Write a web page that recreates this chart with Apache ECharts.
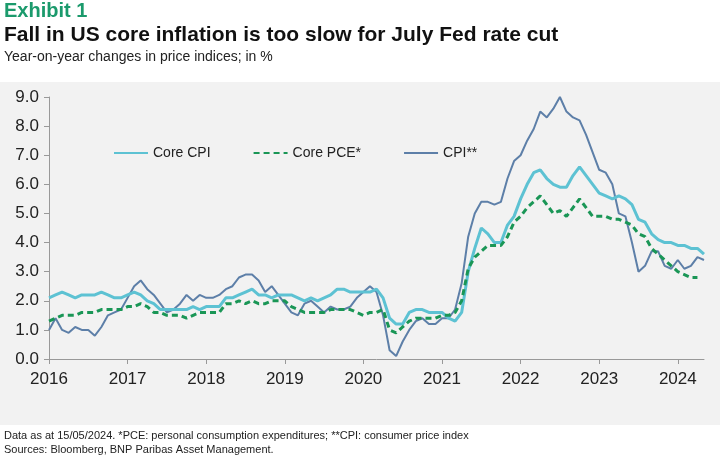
<!DOCTYPE html>
<html><head><meta charset="utf-8">
<script src="https://cdn.jsdelivr.net/npm/echarts@6/dist/echarts.min.js"></script>
<style>html,body{margin:0;padding:0;background:#fff}#c{width:725px;height:461px}</style>
</head><body><div id="c"></div>
<script>
// monthly, Dec 2015 .. Apr 2024 (first point sits on the 2016 tick)
var yearLabels = ['2016','2017','2018','2019','2020','2021','2022','2023','2024'];
var months = [];
for (var i = 0; i < 101; i++) months.push(i);

var coreCPI = [2.1,
 2.2,2.3,2.2,2.1,2.2,2.2,2.2,2.3,2.2,2.1,2.1,2.2,
 2.3,2.2,2.0,1.9,1.7,1.7,1.7,1.7,1.7,1.8,1.7,1.8,
 1.8,1.8,2.1,2.1,2.2,2.3,2.4,2.2,2.2,2.1,2.2,2.2,
 2.2,2.1,2.0,2.1,2.0,2.1,2.2,2.4,2.4,2.3,2.3,2.3,
 2.3,2.4,2.1,1.4,1.2,1.2,1.6,1.7,1.7,1.6,1.6,1.6,
 1.4,1.3,1.6,3.0,3.8,4.5,4.3,4.0,4.0,4.6,4.9,5.5,
 6.0,6.4,6.5,6.2,6.0,5.9,5.9,6.3,6.6,6.3,6.0,5.7,
 5.6,5.5,5.6,5.5,5.3,4.8,4.7,4.3,4.1,4.0,4.0,3.9,
 3.9,3.8,3.8,3.6];
var corePCE = [1.3,
 1.4,1.5,1.5,1.5,1.6,1.6,1.6,1.7,1.7,1.7,1.7,1.8,
 1.8,1.9,1.8,1.6,1.6,1.5,1.5,1.5,1.4,1.5,1.6,1.6,
 1.6,1.6,1.9,1.9,2.0,1.9,2.0,1.9,1.9,2.0,2.0,2.0,
 1.8,1.7,1.6,1.6,1.6,1.6,1.7,1.7,1.7,1.7,1.6,1.5,
 1.6,1.6,1.7,1.0,0.9,1.1,1.3,1.4,1.4,1.4,1.4,1.5,
 1.5,1.6,2.0,3.1,3.5,3.7,3.9,3.9,3.9,4.2,4.7,4.9,
 5.2,5.4,5.6,5.3,5.0,5.1,4.9,5.2,5.5,5.2,4.9,4.9,
 4.9,4.8,4.8,4.7,4.6,4.3,4.2,3.8,3.6,3.4,3.2,3.0,
 2.9,2.8,2.8];
var cpi = [1.0,
 1.4,1.0,0.9,1.1,1.0,1.0,0.8,1.1,1.5,1.6,1.7,2.1,
 2.5,2.7,2.4,2.2,1.9,1.6,1.7,1.9,2.2,2.0,2.2,2.1,
 2.1,2.2,2.4,2.5,2.8,2.9,2.9,2.7,2.3,2.5,2.2,1.9,
 1.6,1.5,1.9,2.0,1.8,1.6,1.8,1.7,1.7,1.8,2.1,2.3,
 2.5,2.3,1.5,0.3,0.1,0.6,1.0,1.3,1.4,1.2,1.2,1.4,
 1.4,1.7,2.6,4.2,5.0,5.4,5.4,5.3,5.4,6.2,6.8,7.0,
 7.5,7.9,8.5,8.3,8.6,9.0,8.5,8.3,8.2,7.7,7.1,6.5,
 6.4,6.0,5.0,4.9,4.0,3.0,3.2,3.7,3.7,3.2,3.1,3.4,
 3.1,3.2,3.5,3.4];

var chart = echarts.init(document.getElementById('c'));
var font = "'Liberation Sans Narrow', 'Liberation Sans', sans-serif";
chart.setOption({
  animation: false,
  textStyle: {fontFamily: font},
  graphic: [
    {type: 'rect', shape: {x: 0, y: 82, width: 720, height: 343}, style: {fill: '#f2f2f2'}, z: -10},
    {type: 'text', left: 4, top: 1, style: {text: 'Exhibit 1', font: 'bold 20px ' + font, fill: '#1b9a6c'}},
    {type: 'text', left: 4, top: 25, style: {text: 'Fall in US core inflation is too slow for July Fed rate cut', font: 'bold 21px ' + font, fill: '#111'}},
    {type: 'text', left: 4, top: 50, style: {text: 'Year-on-year changes in price indices; in %', font: '14px ' + font, fill: '#222'}},
    {type: 'text', left: 4, top: 430, style: {text: 'Data as at 15/05/2024. *PCE: personal consumption expenditures; **CPI: consumer price index', font: '11px ' + font, fill: '#222'}},
    {type: 'text', left: 4, top: 444, style: {text: 'Sources: Bloomberg, BNP Paribas Asset Management.', font: '11px ' + font, fill: '#222'}}
  ],
  legend: {
    top: 141, left: 108, itemGap: 42, itemWidth: 34, itemHeight: 10,
    itemStyle: {opacity: 0},
    textStyle: {fontSize: 14, color: '#222', fontFamily: font},
    data: ['Core CPI', 'Core PCE*', 'CPI**']
  },
  grid: {left: 49, right: 21, top: 97, bottom: 102},
  xAxis: {
    type: 'category', data: months, boundaryGap: false,
    axisLine: {lineStyle: {color: '#999'}},
    axisTick: {interval: function (i) { return i % 12 === 0; }, lineStyle: {color: '#999'}},
    axisLabel: {
      interval: function (i) { return i % 12 === 0; },
      formatter: function (v, i) { return yearLabels[i / 12]; },
      fontSize: 17, color: '#222', margin: 12, fontFamily: font
    }
  },
  yAxis: {
    type: 'value', min: 0, max: 9, interval: 1,
    axisLine: {show: true, lineStyle: {color: '#999'}},
    axisTick: {show: true, lineStyle: {color: '#999'}},
    splitLine: {show: false},
    axisLabel: {formatter: function (v) { return v.toFixed(1); }, fontSize: 17, color: '#222', margin: 10, fontFamily: font}
  },
  series: [
    {name: 'Core CPI', type: 'line', data: coreCPI, symbol: 'none', z: 3,
     lineStyle: {color: '#5dc2d3', width: 3}, itemStyle: {color: '#5dc2d3'}},
    {name: 'Core PCE*', type: 'line', data: corePCE, symbol: 'none', z: 4,
     lineStyle: {color: '#1a9656', width: 3, type: [6, 4]}, itemStyle: {color: '#1a9656'}},
    {name: 'CPI**', type: 'line', data: cpi, symbol: 'none', z: 2,
     lineStyle: {color: '#5d7fa8', width: 2}, itemStyle: {color: '#5d7fa8'}}
  ]
});
</script></body></html>
